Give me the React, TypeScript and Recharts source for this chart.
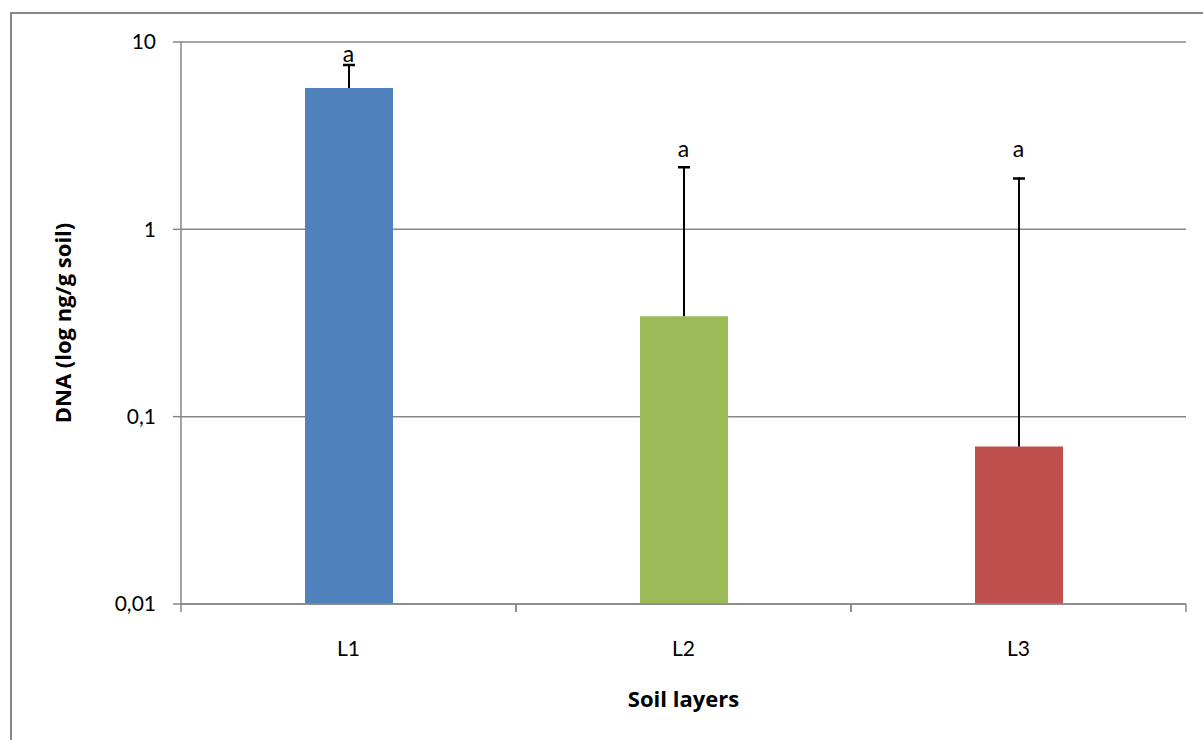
import React from 'react';
import { ComposedChart, Bar, Scatter, XAxis, YAxis, CartesianGrid, Cell } from 'recharts';

const categories = ['L1', 'L2', 'L3'];
const dnaMeans = [5.68, 0.344, 0.0692];
const dnaErrors = [1.95, 1.83, 1.82];
const letters = ['a', 'a', 'a'];
const letterPositions = [7.85, 2.43, 2.43];
const barColors = ['#4F81BD', '#9BBB59', '#C0504D'];
const yTicks = [0.01, 0.1, 1, 10];

const data = categories.map((name, i) => ({
  name,
  mean: dnaMeans[i],
  err: dnaErrors[i],
  letterPos: letterPositions[i],
  letter: letters[i],
}));

const FONT = 'Lato, "Open Sans", sans-serif';
const TITLE_FONT = '"Open Sans", Lato, sans-serif';
const GRAY = '#878787';

const ErrorShape = (props: any) => {
  const { x, y, width, height } = props;
  const cx = x + width / 2;
  return (
    <g>
      <line x1={cx} x2={cx} y1={y} y2={y + height} stroke="#000" strokeWidth={2} />
      <line x1={cx - 6} x2={cx + 6} y1={y + 1} y2={y + 1} stroke="#000" strokeWidth={2.5} />
    </g>
  );
};

const LetterShape = (props: any) => {
  const { cx, cy, payload } = props;
  return (
    <text x={cx} y={cy} textAnchor="middle" fontFamily={FONT} fontSize={23} fill="#000">
      {payload.letter}
    </text>
  );
};

const XTick = (props: any) => {
  const { x, y, payload } = props;
  const off = payload.offset || 0;
  const axisY = y - 37;
  return (
    <g>
      <line x1={x - off} x2={x - off} y1={axisY} y2={axisY + 8} stroke={GRAY} strokeWidth={1.5} />
      <line x1={x + off} x2={x + off} y1={axisY} y2={axisY + 8} stroke={GRAY} strokeWidth={1.5} />
      <text x={x} y={y} dy="0.71em" textAnchor="middle" fontFamily={FONT} fontSize={21} fill="#000">
        {payload.value}
      </text>
    </g>
  );
};

const YTitle = (props: any) => {
  const { viewBox } = props;
  const x = viewBox.x + 62;
  const y = viewBox.y + viewBox.height / 2;
  return (
    <text x={x} y={y} transform={`rotate(-90, ${x}, ${y})`} textAnchor="middle" dominantBaseline="central"
      fontFamily={TITLE_FONT} fontWeight="bold" fontSize={22} fill="#000">
      DNA (log ng/g soil)
    </text>
  );
};

const XTitle = (props: any) => {
  const { viewBox } = props;
  return (
    <text x={viewBox.x + viewBox.width / 2} y={viewBox.y + 103} textAnchor="middle"
      fontFamily={TITLE_FONT} fontWeight="bold" fontSize={22} fill="#000">
      Soil layers
    </text>
  );
};

export default function App() {
  return (
    <div style={{ position: 'fixed', left: 0, top: 0, width: 1203, height: 740, overflow: 'hidden', background: '#fff' }}>
      <div style={{ position: 'absolute', left: 10, top: 12, width: 1300, height: 800, border: `2px solid ${GRAY}`, boxSizing: 'border-box' }} />
      <div style={{ position: 'absolute', left: 0, top: 0 }}>
        <ComposedChart width={1203} height={740} data={data} margin={{ top: 42, right: 17, bottom: 0, left: 0 }}>
          <CartesianGrid vertical={false} stroke={GRAY} strokeWidth={1.5} />
          <XAxis dataKey="name" height={136} tickLine={false} tickSize={8} tickMargin={29}
            axisLine={{ stroke: GRAY, strokeWidth: 1.5 }} tick={<XTick />} interval={0}
            label={<XTitle />} />
          <YAxis scale="log" domain={[0.01, 10]} ticks={yTicks} allowDataOverflow width={181}
            tickSize={8} tickMargin={17} axisLine={{ stroke: GRAY, strokeWidth: 1.5 }}
            tickLine={{ stroke: GRAY, strokeWidth: 1.5 }}
            tick={{ fill: '#000', fontFamily: FONT, fontSize: 21 }}
            tickFormatter={(v: number) => String(v).replace('.', ',')}
            label={<YTitle />} />
          <Bar dataKey="mean" stackId="s" barSize={88} isAnimationActive={false}>
            {data.map((d, i) => (
              <Cell key={d.name} fill={barColors[i]} />
            ))}
          </Bar>
          <Bar dataKey="err" stackId="s" barSize={88} isAnimationActive={false} shape={<ErrorShape />} />
          <Scatter dataKey="letterPos" isAnimationActive={false} shape={<LetterShape />} />
        </ComposedChart>
      </div>
    </div>
  );
}
